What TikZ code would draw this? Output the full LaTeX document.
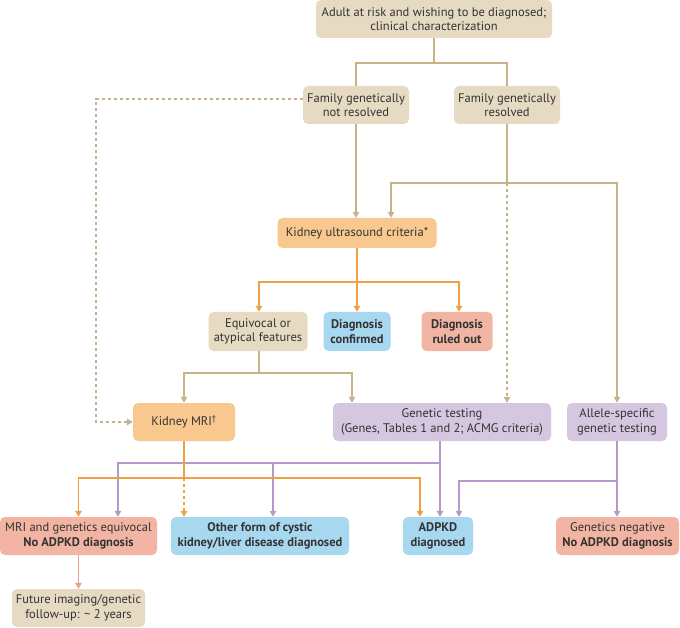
\documentclass[tikz,border=0pt]{standalone}
\usepackage{fontspec}
\setmainfont{PT Sans}
\usetikzlibrary{arrows.meta}
\definecolor{txt}{HTML}{333333}
\definecolor{beigeF}{HTML}{E6DAC2}
\definecolor{orangeF}{HTML}{F8C88E}
\definecolor{blueF}{HTML}{A8D8F0}
\definecolor{salmonF}{HTML}{F2B5A3}
\definecolor{purpleF}{HTML}{D6C7E0}
\definecolor{tanL}{HTML}{C6B38A}
\definecolor{orangeL}{HTML}{F0A044}
\definecolor{purpleL}{HTML}{B49ACB}
\definecolor{salmonL}{HTML}{EBA08C}
\newcommand{\boxfont}{\fontsize{12.5}{14.5}\selectfont}
\begin{document}
\begin{tikzpicture}[x=1pt,y=-1pt,
  box/.style={rounded corners=5pt, align=center, inner sep=0pt, text=txt,
    font=\boxfont, minimum height=38pt},
  boldtext/.style={font=\boxfont\bfseries},
  beigebox/.style={box, fill=beigeF},
  orangebox/.style={box, fill=orangeF},
  bluebox/.style={box, fill=blueF},
  salmonbox/.style={box, fill=salmonF},
  purplebox/.style={box, fill=purpleF},
  tipk/.style={-{Triangle[length=6pt,width=6.5pt]}},
  tanl/.style={draw=tanL, line width=1.2pt},
  tana/.style={tanl, tipk},
  orl/.style={draw=orangeL, line width=1.2pt},
  ora/.style={orl, tipk},
  pul/.style={draw=purpleL, line width=1.2pt},
  pua/.style={pul, tipk},
  saa/.style={draw=salmonL, line width=1.2pt, tipk},
  dsh/.style={dash pattern=on 3pt off 3pt}
]
\useasboundingbox (0,0) rectangle (680,628);

% nodes
\node[beigebox, minimum width=236pt] (top) at (434,19) {Adult at risk and wishing to be diagnosed;\\clinical characterization};
\node[beigebox, minimum width=106pt] (fnr) at (356,105) {Family genetically\\not resolved};
\node[beigebox, minimum width=106pt] (fr) at (507,105) {Family genetically\\resolved};
\node[orangebox, minimum width=159pt, minimum height=30pt] (us) at (357,233) {Kidney ultrasound criteria*};
\node[beigebox, minimum width=99pt, minimum height=39pt] (eq) at (258,331.5) {Equivocal or\\atypical features};
\node[bluebox, boldtext, minimum width=67pt, minimum height=39pt] (conf) at (357,331.5) {Diagnosis\\confirmed};
\node[salmonbox, boldtext, minimum width=71pt, minimum height=39pt] (ruled) at (457,331.5) {Diagnosis\\ruled out};
\node[orangebox, minimum width=102pt] (mri) at (184,422) {Kidney MRI\textsuperscript{†}};
\node[purplebox, minimum width=218pt] (gt) at (442,422) {Genetic testing\\(Genes, Tables 1 and 2; ACMG criteria)};
\node[purplebox, minimum width=100pt] (allele) at (617,422) {Allele-specific\\genetic testing};
\node[salmonbox, minimum width=157pt] (mrieq) at (78.5,536) {MRI and genetics equivocal\\\textbf{No ADPKD diagnosis}};
\node[bluebox, boldtext, minimum width=178pt] (other) at (260,536) {Other form of cystic\\kidney/liver disease diagnosed};
\node[bluebox, boldtext, minimum width=70pt] (adpkd) at (438,536) {ADPKD\\diagnosed};
\node[salmonbox, minimum width=123pt] (neg) at (617.5,536) {Genetics negative\\\textbf{No ADPKD diagnosis}};
\node[beigebox, minimum width=133pt] (follow) at (78.5,608) {Future imaging/genetic\\follow-up: \textasciitilde{} 2 years};

% top fork
\coordinate (j1) at (434,63);
\draw[tanl] (top.south) -- (j1);
\draw[tanl] (fnr.north) |- (j1) -| (fr.north);

% dashed to MRI
\coordinate (d1) at (96,99);
\draw[tana, dsh] ([yshift=6pt]fnr.west) -- (d1) |- (mri.west);

% not resolved -> ultrasound
\draw[tana] (fnr.south) -- (fnr.south |- us.north);

% resolved fork
\coordinate (j2) at (507,183);
\draw[tanl] (fr.south) -- (j2);
\draw[tana] (j2) -| ([xshift=34pt]us.north);
\draw[tana] (j2) -| (allele.north);
\draw[tana, dsh] (j2) -- (j2 |- gt.north);

% ultrasound fork
\coordinate (j3) at (357,282);
\draw[ora] (us.south) -- (conf.north);
\draw[ora] (j3) -| ([xshift=1pt]eq.north);
\draw[ora] (j3) -| ([xshift=2pt]ruled.north);

% equivocal fork
\coordinate (j4) at (259,373);
\draw[tanl] ([xshift=1pt]eq.south) -- (j4);
\draw[tana] (j4) -| (mri.north);
\draw[tana] (j4) -| ([xshift=-90pt]gt.north);

% purple from genetic testing
\coordinate (j5) at (440,463);
\draw[pua] ([xshift=-2pt]gt.south) -- ([xshift=2pt]adpkd.north);
\draw[pua] (j5) -| ([xshift=39.5pt]mrieq.north);
\draw[pua] ([xshift=13pt]other.north |- j5) -- ([xshift=13pt]other.north);

% orange from MRI
\coordinate (j6) at (184,478);
\draw[orl] (mri.south) -- (j6);
\draw[ora] (j6) -| (mrieq.north);
\draw[ora] (j6) -| ([xshift=-18pt]adpkd.north);
\draw[ora, dsh] (j6) -- (j6 |- other.north);

% purple from allele
\coordinate (j7) at (617,481);
\draw[pua] (allele.south) -- (allele.south |- neg.north);
\draw[pua] (j7) -| ([xshift=21pt]adpkd.north);

% follow-up
\draw[saa] (mrieq.south) -- (follow.north);
\end{tikzpicture}
\end{document}
